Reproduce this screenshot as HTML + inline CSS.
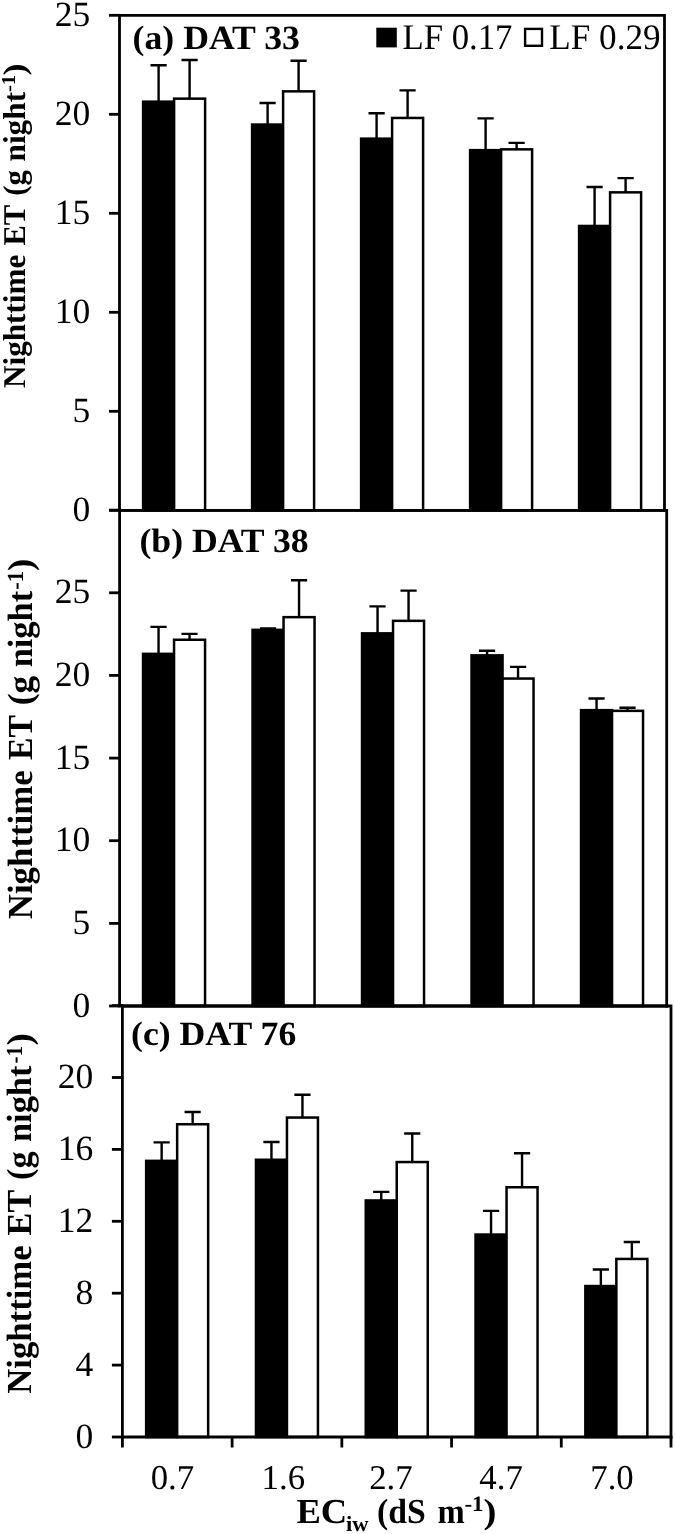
<!DOCTYPE html>
<html><head><meta charset="utf-8"><style>
html,body{margin:0;padding:0;background:#fff;}
svg{display:block;filter:grayscale(100%) blur(0.35px);}
text{font-family:"Liberation Serif",serif;fill:#000;text-rendering:geometricPrecision;}
.tk{font-size:35.5px;}
.xl{font-size:34.8px;}
.lg{font-size:35px;}
.pl{font-size:34px;font-weight:bold;}
.yt{font-size:31.7px;font-weight:bold;}
.xt{font-size:35px;font-weight:bold;}
.sup{font-size:19px;}
.sup2{font-size:20px;}
.sub{font-size:22px;}
</style></head><body>
<svg width="675" height="1534" viewBox="0 0 675 1534">
<rect width="675" height="1534" fill="#fff"/>
<rect x="143.10" y="101.65" width="31.00" height="408.65" fill="#000" stroke="#000" stroke-width="2.5"/>
<rect x="174.10" y="98.65" width="31.00" height="411.65" fill="#fff" stroke="#000" stroke-width="2.5"/>
<path d="M158.60 101.65V65.20M150.50 65.20H166.70" stroke="#000" stroke-width="2.4" fill="none"/>
<path d="M189.60 98.65V60.00M181.50 60.00H197.70" stroke="#000" stroke-width="2.4" fill="none"/>
<rect x="252.10" y="124.55" width="31.00" height="385.75" fill="#000" stroke="#000" stroke-width="2.5"/>
<rect x="283.10" y="91.35" width="31.00" height="418.95" fill="#fff" stroke="#000" stroke-width="2.5"/>
<path d="M267.60 124.55V103.00M259.50 103.00H275.70" stroke="#000" stroke-width="2.4" fill="none"/>
<path d="M298.60 91.35V60.80M290.50 60.80H306.70" stroke="#000" stroke-width="2.4" fill="none"/>
<rect x="361.10" y="138.65" width="31.00" height="371.65" fill="#000" stroke="#000" stroke-width="2.5"/>
<rect x="392.10" y="117.95" width="31.00" height="392.35" fill="#fff" stroke="#000" stroke-width="2.5"/>
<path d="M376.60 138.65V113.30M368.50 113.30H384.70" stroke="#000" stroke-width="2.4" fill="none"/>
<path d="M407.60 117.95V90.40M399.50 90.40H415.70" stroke="#000" stroke-width="2.4" fill="none"/>
<rect x="470.10" y="150.15" width="31.00" height="360.15" fill="#000" stroke="#000" stroke-width="2.5"/>
<rect x="501.10" y="149.35" width="31.00" height="360.95" fill="#fff" stroke="#000" stroke-width="2.5"/>
<path d="M485.60 150.15V118.40M477.50 118.40H493.70" stroke="#000" stroke-width="2.4" fill="none"/>
<path d="M516.60 149.35V142.90M508.50 142.90H524.70" stroke="#000" stroke-width="2.4" fill="none"/>
<rect x="579.10" y="225.95" width="31.00" height="284.35" fill="#000" stroke="#000" stroke-width="2.5"/>
<rect x="610.10" y="192.35" width="31.00" height="317.95" fill="#fff" stroke="#000" stroke-width="2.5"/>
<path d="M594.60 225.95V187.00M586.50 187.00H602.70" stroke="#000" stroke-width="2.4" fill="none"/>
<path d="M625.60 192.35V178.10M617.50 178.10H633.70" stroke="#000" stroke-width="2.4" fill="none"/>
<path d="M119.50 15.30H664.50V510.30" stroke="#000" stroke-width="2.8" fill="none" stroke-linecap="square"/>
<path d="M119.50 15.30V510.30M119.50 510.30H664.50" stroke="#000" stroke-width="2.8" fill="none" stroke-linecap="square"/>
<path d="M109.00 510.30H119.50" stroke="#000" stroke-width="2.8" fill="none"/>
<text x="90.30" y="520.80" class="tk" text-anchor="end">0</text>
<path d="M109.00 411.30H119.50" stroke="#000" stroke-width="2.8" fill="none"/>
<text x="90.30" y="421.80" class="tk" text-anchor="end">5</text>
<path d="M109.00 312.30H119.50" stroke="#000" stroke-width="2.8" fill="none"/>
<text x="90.30" y="322.80" class="tk" text-anchor="end">10</text>
<path d="M109.00 213.30H119.50" stroke="#000" stroke-width="2.8" fill="none"/>
<text x="90.30" y="223.80" class="tk" text-anchor="end">15</text>
<path d="M109.00 114.30H119.50" stroke="#000" stroke-width="2.8" fill="none"/>
<text x="90.30" y="124.80" class="tk" text-anchor="end">20</text>
<path d="M109.00 15.30H119.50" stroke="#000" stroke-width="2.8" fill="none"/>
<text x="90.30" y="25.80" class="tk" text-anchor="end">25</text>
<rect x="143.05" y="653.85" width="31.00" height="352.15" fill="#000" stroke="#000" stroke-width="2.5"/>
<rect x="174.05" y="639.75" width="31.00" height="366.25" fill="#fff" stroke="#000" stroke-width="2.5"/>
<path d="M158.55 653.85V626.90M150.45 626.90H166.65" stroke="#000" stroke-width="2.4" fill="none"/>
<path d="M189.55 639.75V633.90M181.45 633.90H197.65" stroke="#000" stroke-width="2.4" fill="none"/>
<rect x="252.55" y="629.85" width="31.00" height="376.15" fill="#000" stroke="#000" stroke-width="2.5"/>
<rect x="283.55" y="617.15" width="31.00" height="388.85" fill="#fff" stroke="#000" stroke-width="2.5"/>
<path d="M268.05 629.85V628.35M259.95 628.35H276.15" stroke="#000" stroke-width="2.4" fill="none"/>
<path d="M299.05 617.15V580.20M290.95 580.20H307.15" stroke="#000" stroke-width="2.4" fill="none"/>
<rect x="362.05" y="633.35" width="31.00" height="372.65" fill="#000" stroke="#000" stroke-width="2.5"/>
<rect x="393.05" y="620.85" width="31.00" height="385.15" fill="#fff" stroke="#000" stroke-width="2.5"/>
<path d="M377.55 633.35V606.40M369.45 606.40H385.65" stroke="#000" stroke-width="2.4" fill="none"/>
<path d="M408.55 620.85V590.60M400.45 590.60H416.65" stroke="#000" stroke-width="2.4" fill="none"/>
<rect x="471.55" y="655.35" width="31.00" height="350.65" fill="#000" stroke="#000" stroke-width="2.5"/>
<rect x="502.55" y="678.55" width="31.00" height="327.45" fill="#fff" stroke="#000" stroke-width="2.5"/>
<path d="M487.05 655.35V650.70M478.95 650.70H495.15" stroke="#000" stroke-width="2.4" fill="none"/>
<path d="M518.05 678.55V666.90M509.95 666.90H526.15" stroke="#000" stroke-width="2.4" fill="none"/>
<rect x="581.05" y="710.15" width="31.00" height="295.85" fill="#000" stroke="#000" stroke-width="2.5"/>
<rect x="612.05" y="710.85" width="31.00" height="295.15" fill="#fff" stroke="#000" stroke-width="2.5"/>
<path d="M596.55 710.15V698.50M588.45 698.50H604.65" stroke="#000" stroke-width="2.4" fill="none"/>
<path d="M627.55 710.85V707.80M619.45 707.80H635.65" stroke="#000" stroke-width="2.4" fill="none"/>
<path d="M119.60 510.30H666.70V1006.00" stroke="#000" stroke-width="2.8" fill="none" stroke-linecap="square"/>
<path d="M119.60 510.30V1006.00M119.60 1006.00H666.70" stroke="#000" stroke-width="2.8" fill="none" stroke-linecap="square"/>
<path d="M109.10 1006.00H119.60" stroke="#000" stroke-width="2.8" fill="none"/>
<text x="90.30" y="1016.50" class="tk" text-anchor="end">0</text>
<path d="M109.10 923.40H119.60" stroke="#000" stroke-width="2.8" fill="none"/>
<text x="90.30" y="933.90" class="tk" text-anchor="end">5</text>
<path d="M109.10 840.70H119.60" stroke="#000" stroke-width="2.8" fill="none"/>
<text x="90.30" y="851.20" class="tk" text-anchor="end">10</text>
<path d="M109.10 758.10H119.60" stroke="#000" stroke-width="2.8" fill="none"/>
<text x="90.30" y="768.60" class="tk" text-anchor="end">15</text>
<path d="M109.10 675.40H119.60" stroke="#000" stroke-width="2.8" fill="none"/>
<text x="90.30" y="685.90" class="tk" text-anchor="end">20</text>
<path d="M109.10 592.80H119.60" stroke="#000" stroke-width="2.8" fill="none"/>
<text x="90.30" y="603.30" class="tk" text-anchor="end">25</text>
<path d="M109.10 510.20H119.60" stroke="#000" stroke-width="2.8" fill="none"/>
<rect x="146.15" y="1160.85" width="31.00" height="276.15" fill="#000" stroke="#000" stroke-width="2.5"/>
<rect x="177.15" y="1124.25" width="31.00" height="312.75" fill="#fff" stroke="#000" stroke-width="2.5"/>
<path d="M161.65 1160.85V1142.40M153.55 1142.40H169.75" stroke="#000" stroke-width="2.4" fill="none"/>
<path d="M192.65 1124.25V1112.00M184.55 1112.00H200.75" stroke="#000" stroke-width="2.4" fill="none"/>
<rect x="255.95" y="1159.75" width="31.00" height="277.25" fill="#000" stroke="#000" stroke-width="2.5"/>
<rect x="286.95" y="1117.55" width="31.00" height="319.45" fill="#fff" stroke="#000" stroke-width="2.5"/>
<path d="M271.45 1159.75V1142.00M263.35 1142.00H279.55" stroke="#000" stroke-width="2.4" fill="none"/>
<path d="M302.45 1117.55V1094.80M294.35 1094.80H310.55" stroke="#000" stroke-width="2.4" fill="none"/>
<rect x="365.75" y="1200.45" width="31.00" height="236.55" fill="#000" stroke="#000" stroke-width="2.5"/>
<rect x="396.75" y="1162.05" width="31.00" height="274.95" fill="#fff" stroke="#000" stroke-width="2.5"/>
<path d="M381.25 1200.45V1191.90M373.15 1191.90H389.35" stroke="#000" stroke-width="2.4" fill="none"/>
<path d="M412.25 1162.05V1133.50M404.15 1133.50H420.35" stroke="#000" stroke-width="2.4" fill="none"/>
<rect x="475.55" y="1234.55" width="31.00" height="202.45" fill="#000" stroke="#000" stroke-width="2.5"/>
<rect x="506.55" y="1187.25" width="31.00" height="249.75" fill="#fff" stroke="#000" stroke-width="2.5"/>
<path d="M491.05 1234.55V1210.90M482.95 1210.90H499.15" stroke="#000" stroke-width="2.4" fill="none"/>
<path d="M522.05 1187.25V1153.20M513.95 1153.20H530.15" stroke="#000" stroke-width="2.4" fill="none"/>
<rect x="585.35" y="1286.05" width="31.00" height="150.95" fill="#000" stroke="#000" stroke-width="2.5"/>
<rect x="616.35" y="1258.95" width="31.00" height="178.05" fill="#fff" stroke="#000" stroke-width="2.5"/>
<path d="M600.85 1286.05V1269.50M592.75 1269.50H608.95" stroke="#000" stroke-width="2.4" fill="none"/>
<path d="M631.85 1258.95V1242.00M623.75 1242.00H639.95" stroke="#000" stroke-width="2.4" fill="none"/>
<path d="M122.40 1006.00H671.00V1437.00" stroke="#000" stroke-width="2.8" fill="none" stroke-linecap="square"/>
<path d="M122.40 1006.00V1437.00M122.40 1437.00H671.00" stroke="#000" stroke-width="2.8" fill="none" stroke-linecap="square"/>
<path d="M111.90 1437.00H122.40" stroke="#000" stroke-width="2.8" fill="none"/>
<text x="93.20" y="1447.50" class="tk" text-anchor="end">0</text>
<path d="M111.90 1365.10H122.40" stroke="#000" stroke-width="2.8" fill="none"/>
<text x="93.20" y="1375.60" class="tk" text-anchor="end">4</text>
<path d="M111.90 1293.20H122.40" stroke="#000" stroke-width="2.8" fill="none"/>
<text x="93.20" y="1303.70" class="tk" text-anchor="end">8</text>
<path d="M111.90 1221.30H122.40" stroke="#000" stroke-width="2.8" fill="none"/>
<text x="93.20" y="1231.80" class="tk" text-anchor="end">12</text>
<path d="M111.90 1149.40H122.40" stroke="#000" stroke-width="2.8" fill="none"/>
<text x="93.20" y="1159.90" class="tk" text-anchor="end">16</text>
<path d="M111.90 1077.50H122.40" stroke="#000" stroke-width="2.8" fill="none"/>
<text x="93.20" y="1088.00" class="tk" text-anchor="end">20</text>
<path d="M111.90 1005.60H122.40" stroke="#000" stroke-width="2.8" fill="none"/>
<path d="M122.40 1437.00V1447.50" stroke="#000" stroke-width="2.8" fill="none"/>
<path d="M232.12 1437.00V1447.50" stroke="#000" stroke-width="2.8" fill="none"/>
<path d="M341.84 1437.00V1447.50" stroke="#000" stroke-width="2.8" fill="none"/>
<path d="M451.56 1437.00V1447.50" stroke="#000" stroke-width="2.8" fill="none"/>
<path d="M561.28 1437.00V1447.50" stroke="#000" stroke-width="2.8" fill="none"/>
<path d="M671.00 1437.00V1447.50" stroke="#000" stroke-width="2.8" fill="none"/>
<text transform="translate(172.40,1489.20)" class="xl" text-anchor="middle">0.7</text>
<text transform="translate(283.30,1489.20)" class="xl" text-anchor="middle">1.6</text>
<text transform="translate(390.90,1489.20)" class="xl" text-anchor="middle">2.7</text>
<text transform="translate(501.10,1489.20)" class="xl" text-anchor="middle">4.7</text>
<text transform="translate(612.00,1489.20)" class="xl" text-anchor="middle">7.0</text>
<text transform="translate(132.60,49.40) scale(1.0500,1)" class="pl" text-anchor="start">(a) DAT 33</text>
<text transform="translate(139.40,552.20) scale(1.0500,1)" class="pl" text-anchor="start">(b) DAT 38</text>
<text transform="translate(131.00,1044.50) scale(1.0500,1)" class="pl" text-anchor="start">(c) DAT 76</text>
<rect x="376.3" y="27.7" width="20.5" height="19.7" fill="#000"/>
<text transform="translate(402.46,48.60) scale(0.9645,1)" style="font-size:36px;font-weight:normal">LF 0.17</text>
<rect x="525.1" y="28.9" width="16.9" height="16.9" fill="#fff" stroke="#000" stroke-width="2.4"/>
<text transform="translate(549.25,48.60) scale(0.9766,1)" style="font-size:36px;font-weight:normal">LF 0.29</text>
<text transform="translate(296.46,1523.00) scale(1.0458,1)" style="font-size:35px;font-weight:bold">EC</text>
<text transform="translate(346.09,1531.00) scale(1.0330,1)" style="font-size:21.8px;font-weight:bold">iw</text>
<text transform="translate(377.08,1523.00) scale(0.9640,1)" style="font-size:35px;font-weight:bold">(dS</text>
<text transform="translate(437.60,1523.00) scale(0.9324,1)" style="font-size:35px;font-weight:bold">m</text>
<text transform="translate(464.44,1510.80) scale(1.0468,1)" style="font-size:22px;font-weight:bold">-1</text>
<text transform="translate(483.54,1522.50) scale(1.1096,1)" style="font-size:35px;font-weight:bold">)</text>
<text transform="translate(24.60,388.02) rotate(-90) scale(0.9837,1)" style="font-size:31.7px;font-weight:bold">Nighttime</text>
<text transform="translate(24.60,245.53) rotate(-90) scale(0.9639,1)" style="font-size:31.7px;font-weight:bold">ET</text>
<text transform="translate(24.60,195.69) rotate(-90) scale(0.9738,1)" style="font-size:31.7px;font-weight:bold">(g</text>
<text transform="translate(24.60,161.56) rotate(-90) scale(0.9896,1)" style="font-size:31.7px;font-weight:bold">night</text>
<text transform="translate(15.30,92.08) rotate(-90) scale(1.0543,1)" style="font-size:19.8px;font-weight:bold">-1</text>
<text transform="translate(24.60,75.47) rotate(-90) scale(1.1393,1)" style="font-size:31.7px;font-weight:bold">)</text>
<text transform="translate(32.30,919.20) rotate(-90) scale(0.9893,1)" style="font-size:35.2px;font-weight:bold">Nighttime</text>
<text transform="translate(32.30,759.99) rotate(-90) scale(0.9553,1)" style="font-size:35.2px;font-weight:bold">ET</text>
<text transform="translate(32.30,705.29) rotate(-90) scale(1.0048,1)" style="font-size:35.2px;font-weight:bold">(g</text>
<text transform="translate(32.30,667.35) rotate(-90) scale(0.9781,1)" style="font-size:35.2px;font-weight:bold">night</text>
<text transform="translate(22.90,589.85) rotate(-90) scale(0.9896,1)" style="font-size:23px;font-weight:bold">-1</text>
<text transform="translate(32.30,571.01) rotate(-90) scale(1.0591,1)" style="font-size:35.2px;font-weight:bold">)</text>
<text transform="translate(31.40,1393.69) rotate(-90) scale(0.9853,1)" style="font-size:35.2px;font-weight:bold">Nighttime</text>
<text transform="translate(31.40,1235.40) rotate(-90) scale(0.9706,1)" style="font-size:35.2px;font-weight:bold">ET</text>
<text transform="translate(31.40,1179.95) rotate(-90) scale(0.9756,1)" style="font-size:35.2px;font-weight:bold">(g</text>
<text transform="translate(31.40,1142.05) rotate(-90) scale(0.9781,1)" style="font-size:35.2px;font-weight:bold">night</text>
<text transform="translate(21.50,1063.49) rotate(-90) scale(0.9193,1)" style="font-size:23px;font-weight:bold">-1</text>
<text transform="translate(31.40,1045.61) rotate(-90) scale(1.0591,1)" style="font-size:35.2px;font-weight:bold">)</text>
</svg>
</body></html>
